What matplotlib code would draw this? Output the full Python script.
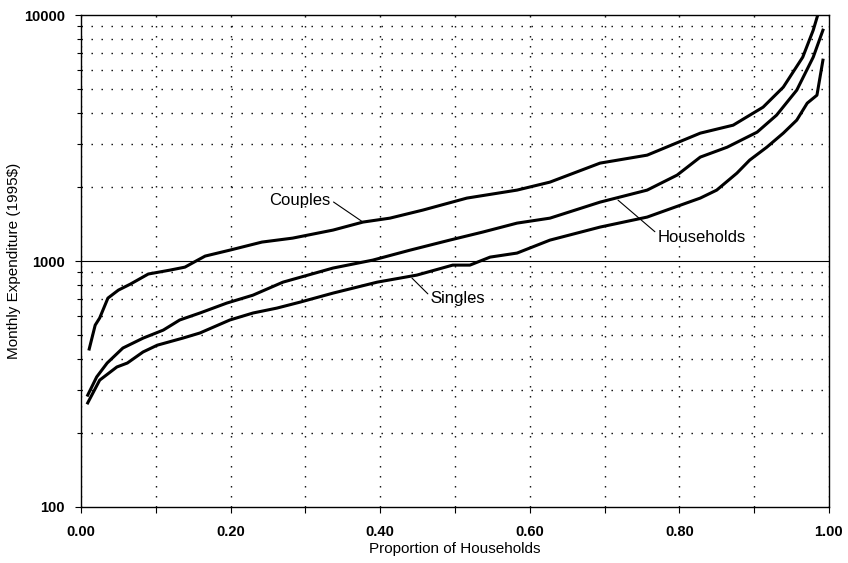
import matplotlib
matplotlib.use("Agg")
import matplotlib.pyplot as plt
from matplotlib.ticker import MultipleLocator, LogLocator, NullFormatter, FixedLocator, FuncFormatter

plt.rcParams['font.family'] = ['Liberation Sans', 'DejaVu Sans']

# proportion of households / monthly expenditure (1995$)
couples_x = [0.011, 0.019, 0.025, 0.036, 0.050, 0.066, 0.090, 0.119, 0.139, 0.156,
             0.166, 0.199, 0.242, 0.283, 0.337, 0.377, 0.413, 0.457, 0.516, 0.583,
             0.627, 0.694, 0.757, 0.828, 0.872, 0.912, 0.939, 0.965, 0.979, 0.985]
couples_y = [439, 549, 587, 707, 762, 806, 886, 919, 945, 1009,
             1048, 1108, 1195, 1240, 1337, 1441, 1495, 1612, 1804, 1944,
             2095, 2503, 2697, 3314, 3571, 4227, 5098, 6750, 8690, 10000]

households_x = [0.009, 0.021, 0.035, 0.056, 0.083, 0.110, 0.132, 0.159, 0.195, 0.230,
                0.270, 0.337, 0.390, 0.440, 0.493, 0.537, 0.583, 0.627, 0.694, 0.757,
                0.797, 0.828, 0.864, 0.904, 0.930, 0.957, 0.979, 0.992]
households_y = [285, 338, 385, 443, 486, 524, 576, 615, 675, 727,
                821, 937, 1009, 1108, 1217, 1312, 1427, 1495, 1737, 1944,
                2237, 2648, 2906, 3345, 3922, 4957, 6750, 8690]

singles_x = [0.009, 0.025, 0.048, 0.062, 0.083, 0.102, 0.136, 0.159, 0.199, 0.230,
             0.262, 0.293, 0.337, 0.396, 0.449, 0.497, 0.520, 0.547, 0.583, 0.627,
             0.694, 0.757, 0.783, 0.828, 0.850, 0.877, 0.894, 0.917, 0.939, 0.957,
             0.971, 0.984, 0.992]
singles_y = [265, 328, 371, 385, 427, 455, 486, 510, 576, 615,
             644, 681, 741, 821, 877, 963, 963, 1038, 1078, 1217,
             1375, 1510, 1612, 1804, 1944, 2279, 2574, 2906, 3314, 3744,
             4389, 4729, 6563]

fig = plt.figure(figsize=(8.48, 5.63), dpi=100)
ax = fig.add_axes([0.0955, 0.0995, 0.882, 0.8735])

for xs, ys in [(couples_x, couples_y), (households_x, households_y), (singles_x, singles_y)]:
    ax.plot(xs, ys, color='black', lw=2.2, solid_joinstyle='round', zorder=3)

ax.set_yscale('log')
ax.set_xlim(0, 1)
ax.set_ylim(100, 10000)

ax.xaxis.set_major_locator(MultipleLocator(0.2))
ax.xaxis.set_minor_locator(MultipleLocator(0.1))
ax.xaxis.set_major_formatter(FuncFormatter(lambda v, p: '%.2f' % v))
ax.yaxis.set_major_locator(FixedLocator([100, 1000, 10000]))
ax.yaxis.set_minor_locator(LogLocator(base=10, subs=range(2, 10)))
ax.yaxis.set_major_formatter(FuncFormatter(lambda v, p: '%d' % v))
ax.yaxis.set_minor_formatter(NullFormatter())

dots = (0, (1, 6.2))
ax.xaxis.grid(True, which='both', color='black', lw=1.0, ls=dots)
ax.yaxis.grid(True, which='minor', color='black', lw=1.0, ls=dots)
ax.axhline(1000, color='black', lw=0.8, zorder=2)

ax.tick_params(axis='x', which='both', direction='out', length=4, width=0.8, pad=9,
               labelsize=10.5)
ax.tick_params(axis='y', which='major', direction='out', length=4.5, width=0.8, pad=7,
               labelsize=10.5)
ax.tick_params(axis='y', which='minor', direction='out', length=3, width=0.8)
for lab in ax.get_xticklabels() + ax.get_yticklabels():
    lab.set_fontweight('bold')

for s in ax.spines.values():
    s.set_linewidth(1.0)

ax.set_xlabel('Proportion of Households', fontsize=11, labelpad=2)
ax.set_ylabel('Monthly Expenditure (1995$)', fontsize=11, labelpad=2)

ax.annotate('Couples', xy=(0.377, 1441), xytext=(0.293, 1770), fontsize=12,
            ha='center', va='center',
            arrowprops=dict(arrowstyle='-', color='black', lw=0.8, shrinkA=0, shrinkB=0,
                            relpos=(1.0, 0.5)))
ax.annotate('Singles', xy=(0.4425, 853), xytext=(0.504, 707), fontsize=12,
            ha='center', va='center',
            arrowprops=dict(arrowstyle='-', color='black', lw=0.8, shrinkA=0, shrinkB=0,
                            relpos=(0.0, 0.6)))
ax.annotate('Households', xy=(0.718, 1770), xytext=(0.830, 1252), fontsize=12,
            ha='center', va='center',
            arrowprops=dict(arrowstyle='-', color='black', lw=0.8, shrinkA=0, shrinkB=0,
                            relpos=(0.0, 0.7)))

fig.savefig('out.png', dpi=100)
